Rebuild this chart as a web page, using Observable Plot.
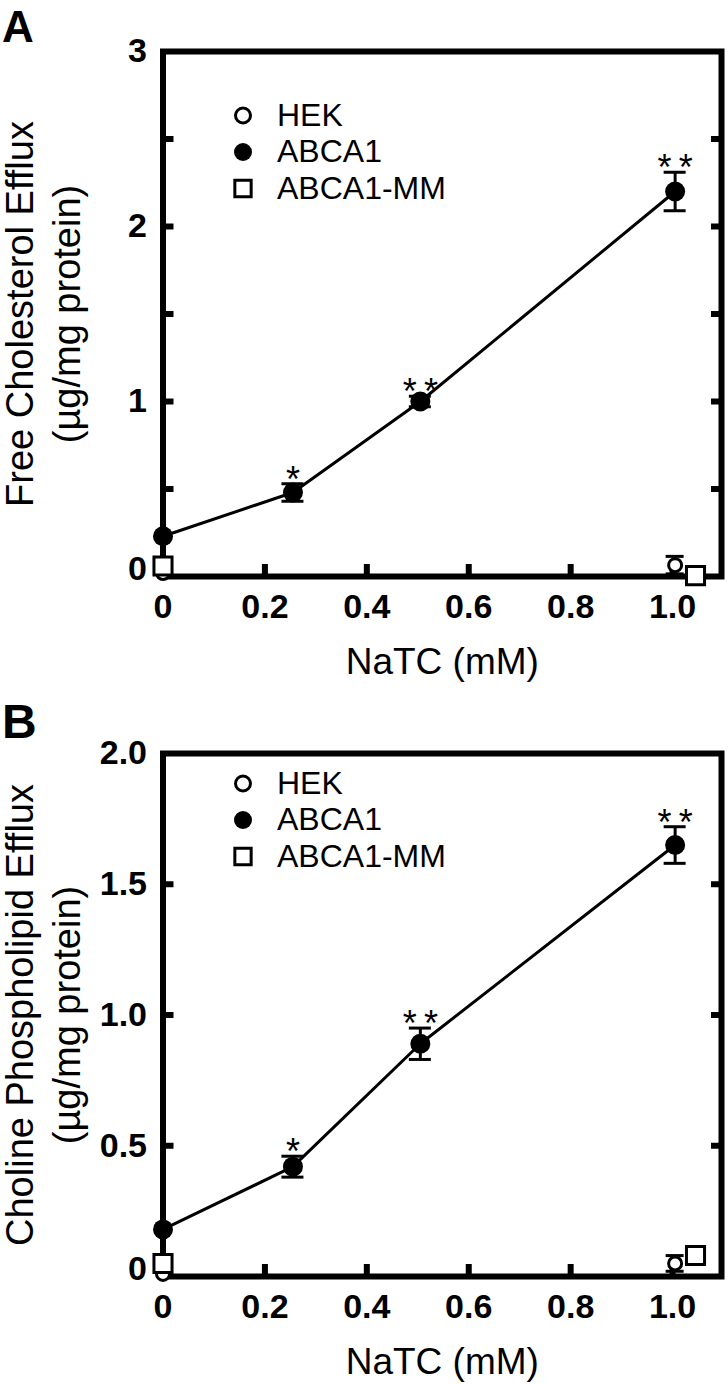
<!DOCTYPE html>
<html><head><meta charset="utf-8">
<script src="https://cdn.jsdelivr.net/npm/d3@7"></script>
<script src="https://cdn.jsdelivr.net/npm/@observablehq/plot@0.6"></script>
<style>
body{margin:0;background:#fff;}
#chart svg{display:block;}
</style></head><body><div id="chart"></div>
<script>
// ---- data ----
const seriesNames = ["HEK", "ABCA1", "ABCA1-MM"];
const xTickValues = [0, 0.2, 0.4, 0.6, 0.8, 1.0];
const xTitle = "NaTC (mM)";

// Panel A: Free cholesterol efflux
const aTitle = ["Free Cholesterol Efflux", "(\u00b5g/mg protein)"];
const aYTicks = [0, 0.5, 1, 1.5, 2, 2.5, 3];
const aYLabels = [0, 1, 2, 3];
const aAbcaX = [0, 0.255, 0.505, 1.005];
const aAbcaY = [0.23, 0.48, 1.0, 2.2];
const aAbcaErr = [0.02, 0.05, 0.03, 0.11];
const aAbcaSig = ["", "*", "**", "**"];
const aHekX = [0, 1.005];
const aHekY = [0.02, 0.065];
const aHekErr = [0, 0.05];
const aMmX = [0, 1.045];
const aMmY = [0.06, 0.005];

// Panel B: Choline phospholipid efflux
const bTitle = ["Choline Phospholipid Efflux", "(\u00b5g/mg protein)"];
const bYTicks = [0, 0.5, 1.0, 1.5, 2.0];
const bYLabels = [0, 0.5, 1.0, 1.5, 2.0];
const bAbcaX = [0, 0.255, 0.505, 1.005];
const bAbcaY = [0.18, 0.42, 0.89, 1.65];
const bAbcaErr = [0.02, 0.04, 0.06, 0.07];
const bAbcaSig = ["", "*", "**", "**"];
const bHekX = [0, 1.005];
const bHekY = [0.01, 0.05];
const bHekErr = [0, 0.03];
const bMmX = [0, 1.045];
const bMmY = [0.05, 0.08];

const FONT = "'Liberation Sans', Arial, sans-serif";
const blank = () => "";

function panel(cfg) {
  const abca = cfg.abcaX.map((x, i) => ({x, y: cfg.abcaY[i], lo: cfg.abcaY[i] - cfg.abcaErr[i], hi: cfg.abcaY[i] + cfg.abcaErr[i], sig: cfg.abcaSig[i]}));
  const hek = cfg.hekX.map((x, i) => ({x, y: cfg.hekY[i], lo: cfg.hekY[i] - cfg.hekErr[i], hi: cfg.hekY[i] + cfg.hekErr[i]}));
  const mm = cfg.mmX.map((x, i) => ({x, y: cfg.mmY[i]}));
  const abcaErr = abca.filter(d => d.hi - d.lo > 0.045);
  const hekErr = hek.filter(d => d.hi - d.lo > 0);
  const ymax = d3.max(cfg.yTicks);
  const innerY = cfg.yTicks.filter(v => v > 0 && v < ymax);
  const innerX = xTickValues.filter(v => v > 0);
  const fmtY = cfg.fmtY;
  const fmtX = d => d === 0 ? "0" : d.toFixed(1);
  const legendMarks = [];
  seriesNames.forEach((name, i) => {
    const dy = cfg.legendTop + i * cfg.legendStep;
    const sym = i === 2 ? "square" : "circle";
    legendMarks.push(Plot.dot([name], {frameAnchor: "top-left", dx: 80, dy, symbol: sym,
      r: i === 2 ? 9.2 : (i === 1 ? 9 : 7.5),
      fill: i === 1 ? "black" : "white", stroke: "black", strokeWidth: i === 1 ? 0 : 3}));
    legendMarks.push(Plot.text([name], {frameAnchor: "top-left", dx: 114, dy, text: d => d,
      textAnchor: "start", lineAnchor: "middle", fontSize: 32}));
  });
  return Plot.plot({
    width: 728,
    height: 692,
    marginLeft: 162.5,
    marginRight: 7,
    marginTop: cfg.marginTop,
    marginBottom: cfg.marginBottom,
    style: {fontFamily: FONT, color: "black", background: "white"},
    x: {domain: [0, 1.096], axis: null},
    y: {domain: [0, ymax], axis: null},
    marks: [
      Plot.frame({stroke: "black", strokeWidth: 6}),
      Plot.axisY(innerY, {anchor: "left", tickSize: 11, insetLeft: 11, strokeWidth: 6, tickFormat: blank, label: null}),
      Plot.axisY(innerY, {anchor: "right", tickSize: 11, insetRight: 11, strokeWidth: 6, tickFormat: blank, label: null}),
      Plot.axisX(innerX, {anchor: "bottom", tickSize: 12, insetBottom: 12, strokeWidth: 6, tickFormat: blank, label: null}),
      Plot.axisY(cfg.yLabels.filter(v => v > 0), {anchor: "left", tickSize: 0, tickPadding: 16, fontSize: 34, fontWeight: "bold", tickFormat: fmtY, label: null}),
      Plot.axisY([0], {anchor: "left", tickSize: 0, tickPadding: 16, fontSize: 34, fontWeight: "bold", tickFormat: fmtY, dy: -7, label: null}),
      Plot.axisX(xTickValues, {anchor: "bottom", tickSize: 0, tickPadding: 17, fontSize: 34, fontWeight: "bold", tickFormat: fmtX, label: null}),
      // error bars
      Plot.ruleX(abcaErr, {x: "x", y1: "lo", y2: "hi", strokeWidth: 3}),
      Plot.ruleY(abcaErr, {y: "hi", x1: "x", x2: "x", insetLeft: -11, insetRight: -11, strokeWidth: 3}),
      Plot.ruleY(abcaErr, {y: "lo", x1: "x", x2: "x", insetLeft: -11, insetRight: -11, strokeWidth: 3}),
      Plot.ruleX(hekErr, {x: "x", y1: "lo", y2: "hi", strokeWidth: 3}),
      Plot.ruleY(hekErr, {y: "hi", x1: "x", x2: "x", insetLeft: -9, insetRight: -9, strokeWidth: 3}),
      Plot.ruleY(hekErr, {y: "lo", x1: "x", x2: "x", insetLeft: -9, insetRight: -9, strokeWidth: 3}),
      Plot.line(abca, {x: "x", y: "y", strokeWidth: 3, stroke: "black"}),
      Plot.dot(hek, {x: "x", y: "y", r: 6.5, fill: "white", stroke: "black", strokeWidth: 3}),
      Plot.dot(mm, {x: "x", y: "y", symbol: "square", r: 10.2, fill: "white", stroke: "black", strokeWidth: 3}),
      Plot.dot(abca, {x: "x", y: "y", r: 10, fill: "black"}),
      Plot.text(abca.filter(d => d.sig), {x: "x", y: "hi", text: d => d.sig === "**" ? "*\u2009*" : "*", lineAnchor: "bottom", dy: 8, fontSize: 36}),
      ...legendMarks,
      Plot.text([cfg.title[0]], {frameAnchor: "left", rotate: -90, dx: -130, text: d => d, textAnchor: "middle", lineAnchor: "bottom", fontSize: 38}),
      Plot.text([cfg.title[1]], {frameAnchor: "left", rotate: -90, dx: -83, text: d => d, textAnchor: "middle", lineAnchor: "bottom", fontSize: 38}),
      Plot.text([xTitle], {frameAnchor: "bottom", dy: 71, text: d => d, lineAnchor: "top", fontSize: 37}),
      Plot.text([cfg.letter], {frameAnchor: "top-left", dx: -161, dy: cfg.letterDy, text: d => d, textAnchor: "start", lineAnchor: "bottom", fontSize: cfg.letterSize, fontWeight: "bold"})
    ]
  });
}

const chart = document.getElementById("chart");
chart.appendChild(panel({
  letter: "A", letterDy: -10, letterSize: 44, title: aTitle, yTicks: aYTicks, yLabels: aYLabels, fmtY: d => String(d),
  abcaX: aAbcaX, abcaY: aAbcaY, abcaErr: aAbcaErr, abcaSig: aAbcaSig,
  hekX: aHekX, hekY: aHekY, hekErr: aHekErr, mmX: aMmX, mmY: aMmY,
  marginTop: 51, marginBottom: 116, legendTop: 64, legendStep: 36.5
}));
chart.appendChild(panel({
  letter: "B", letterDy: -16, letterSize: 48, title: bTitle, yTicks: bYTicks, yLabels: bYLabels, fmtY: d => d === 0 ? "0" : d.toFixed(1),
  abcaX: bAbcaX, abcaY: bAbcaY, abcaErr: bAbcaErr, abcaSig: bAbcaSig,
  hekX: bHekX, hekY: bHekY, hekErr: bHekErr, mmX: bMmX, mmY: bMmY,
  marginTop: 61, marginBottom: 108, legendTop: 30, legendStep: 36.5
}));
</script></body></html>
